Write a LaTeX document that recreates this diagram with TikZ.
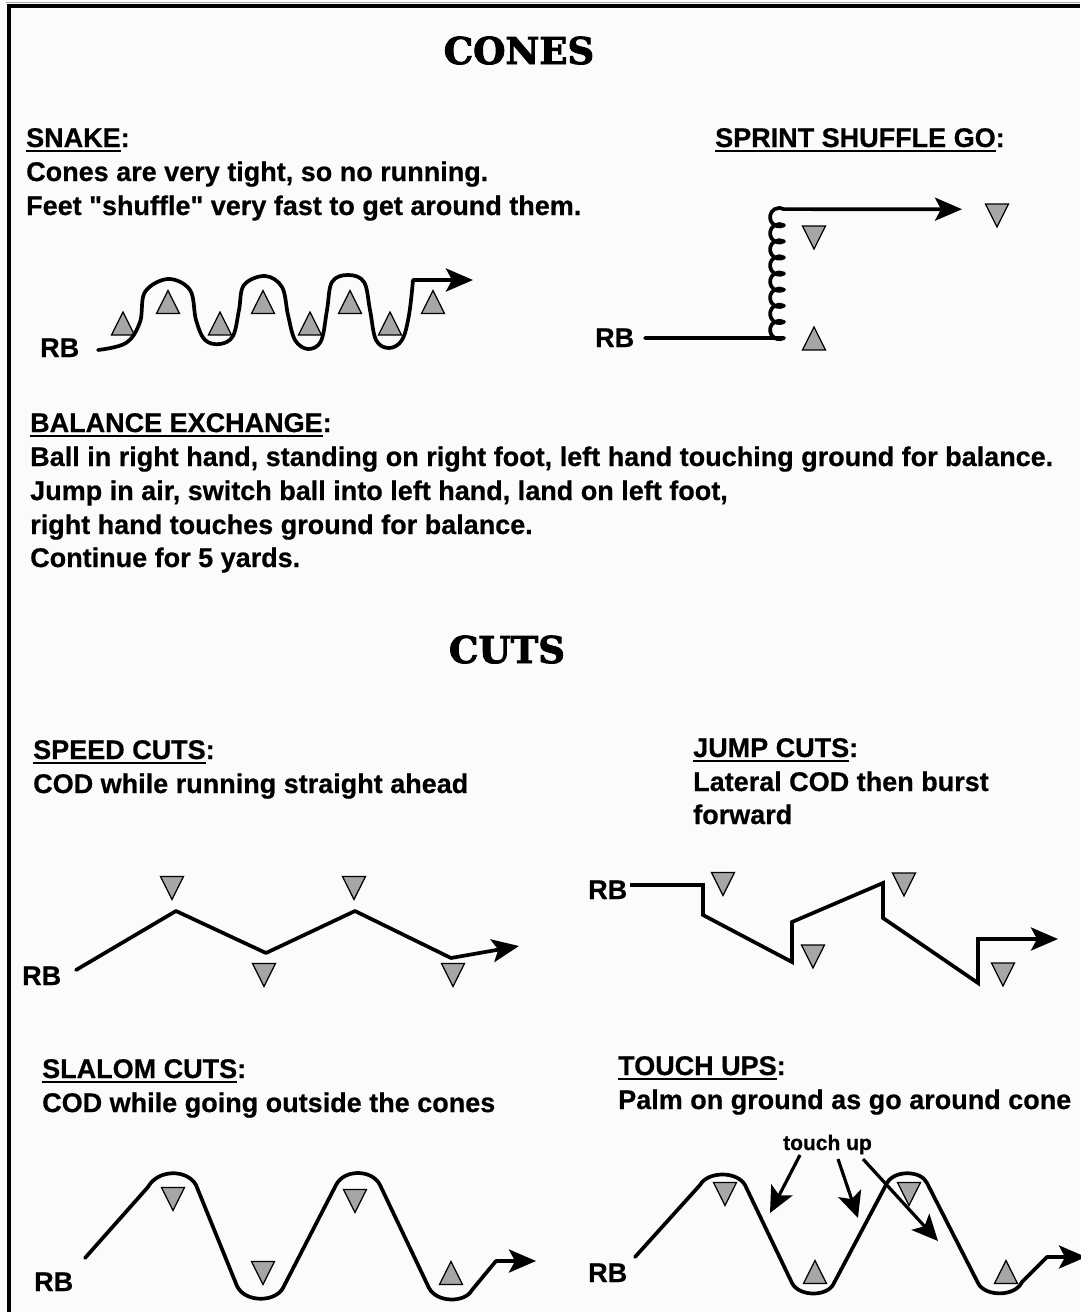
\documentclass[tikz,border=0pt]{standalone}
\usepackage{fontspec}
\newfontfamily\bodyfont{Liberation Sans}[FakeBold=0.6]
\newfontfamily\titlefont{DejaVu Serif}[FakeBold=2.5]
\setmainfont{Liberation Sans}
\usetikzlibrary{arrows.meta}
\newcommand\ulx[1]{\setbox0\hbox{#1}\rlap{\rule[-5pt]{\wd0}{2.5pt}}\box0}
\definecolor{bgcol}{RGB}{251,251,251}
\definecolor{conegray}{RGB}{166,166,166}
\begin{document}
\begin{tikzpicture}[x=1pt,y=-1pt,
  txt/.style={anchor=base west, inner sep=0pt, font=\bodyfont\fontsize{27}{32}\selectfont\bfseries},
  rb/.style={anchor=base west, inner sep=0pt, font=\bodyfont\fontsize{27}{32}\selectfont\bfseries},
  small/.style={anchor=base west, inner sep=0pt, font=\bodyfont\fontsize{21}{24}\selectfont\bfseries},
  title/.style={anchor=base, inner sep=0pt, font=\titlefont\fontsize{37}{40}\selectfont\bfseries},
  cone/.style={draw=black, line width=1.3pt, fill=conegray, line join=miter},
  route/.style={line width=3.7pt, line join=round, line cap=round},
  jroute/.style={line width=3.7pt, line join=miter},
  arr/.style={-{Stealth[length=27pt,width=23pt,inset=6pt]}},
  tarr/.style={line width=3.2pt, -{Stealth[length=26pt,width=24pt,inset=6pt]}},
  coneup/.pic={\draw[cone] (-11.5,11.5) -- (0,-11.5) -- (11.5,11.5) -- cycle;},
  conedown/.pic={\draw[cone] (-11.5,-11.5) -- (0,11.5) -- (11.5,-11.5) -- cycle;}
]
\useasboundingbox (0,0) rectangle (1080,1312);
\fill[bgcol] (0,0) rectangle (1080,1312);
% frame
\draw[line width=1pt, black!35] (6,2) -- (1080,2);
\draw[line width=4pt] (7,6) -- (1080,6);
\draw[line width=4pt] (9,4) -- (9,1312);

% titles
\node[title] (tcones) at (519,64) {CONES};
\node[title] (tcuts) at (507,663) {CUTS};

% SNAKE
\node[txt] (snakeH) at (26,147) {\ulx{SNAKE}:};
\node[txt] (snake1) at (26,181) {Cones are very tight, so no running.};
\node[txt] (snake2) at (26,215) {Feet "shuffle" very fast to get around them.};
\node[rb] (snakeRB) at (40,357) {RB};
\foreach \cx/\cy in {123/323.5,220/323.5,310/323.5,390/323.5,168/302,263/302,350/302,433/302}
  \pic at (\cx,\cy) {coneup};
\draw[route,arr] plot[smooth, tension=0.6] coordinates {(98,350) (126,343) (140,322) (145,292) (168,279) (190,290) (196,320) (205,340) (220,344) (233,336) (239,310) (244,285) (265,276) (282,287) (288,315) (295,340) (308,349) (321,341) (327,310) (332,282) (348,275) (364,282) (370,310) (376,340) (389,348) (402,340) (409,315) (413,280)} -- (473,280);

% SPRINT SHUFFLE GO
\node[txt] (sprintH) at (715,147) {\ulx{SPRINT SHUFFLE GO}:};
\node[rb] (sprintRB) at (595,347) {RB};
\pic at (814,237.5) {conedown};
\pic at (997,215.5) {conedown};
\pic at (814,338.5) {coneup};
\draw[route,arr] (645,338) -- (784,338)
  \foreach \i in {1,...,8} { arc[start angle=60,end angle=300,radius=9.3] }
  -- (962,209.2);

% BALANCE EXCHANGE
\node[txt] (balH) at (30,432) {\ulx{BALANCE EXCHANGE}:};
\node[txt] (bal1) at (30,466) {Ball in right hand, standing on right foot, left hand touching ground for balance.};
\node[txt] (bal2) at (30,500) {Jump in air, switch ball into left hand, land on left foot,};
\node[txt] (bal3) at (30,534) {right hand touches ground for balance.};
\node[txt] (bal4) at (30,567) {Continue for 5 yards.};

% SPEED CUTS
\node[txt] (speedH) at (33,759) {\ulx{SPEED CUTS}:};
\node[txt] (speed1) at (33,793) {COD while running straight ahead};
\node[rb] (speedRB) at (22,985) {RB};
\pic at (172,888) {conedown};
\pic at (354,888) {conedown};
\pic at (264,975) {conedown};
\pic at (453,975) {conedown};
\draw[route] (76,970) -- (176,911) -- (266,953) -- (355,911) -- (451,958);
\draw[route,arr] (451,958) -- (519,946);

% JUMP CUTS
\node[txt] (jumpH) at (693,757) {\ulx{JUMP CUTS}:};
\node[txt] (jump1) at (693,791) {Lateral COD then burst};
\node[txt] (jump2) at (693,824) {forward};
\node[rb] (jumpRB) at (588,899) {RB};
\pic at (723,884) {conedown};
\pic at (813,956.5) {conedown};
\pic at (904,884.5) {conedown};
\pic at (1003,974.5) {conedown};
\draw[jroute,arr] (630,885) -- (703,885) -- (703,915) -- (792,962) -- (792,922) -- (883,883) -- (883,918) -- (978,983) -- (978,939) -- (1058,939);

% SLALOM CUTS
\node[txt] (slalH) at (42,1078) {\ulx{SLALOM CUTS}:};
\node[txt] (slal1) at (42,1112) {COD while going outside the cones};
\node[rb] (slalRB) at (34,1291) {RB};
\pic at (173,1199) {conedown};
\pic at (263,1273) {conedown};
\pic at (355,1201) {conedown};
\pic at (451,1273) {coneup};
\draw[route,arr] (85,1258) -- (148,1187) .. controls (158,1169) and (187,1169) .. (196,1185) -- (237,1286) .. controls (245,1303) and (277,1303) .. (284,1286) -- (336,1185) .. controls (344,1169) and (372,1169) .. (380,1185) -- (429,1288) .. controls (437,1303) and (465,1303) .. (472,1290) -- (496,1261) -- (536,1261);

% TOUCH UPS
\node[txt] (touchH) at (618,1075) {\ulx{TOUCH UPS}:};
\node[txt] (touch1) at (618,1109) {Palm on ground as go around cone};
\node[rb] (touchRB) at (588,1282) {RB};
\node[small] (tulabel) at (783,1150) {touch up};
\pic at (725,1194) {conedown};
\pic at (815,1272) {coneup};
\pic at (909,1194) {conedown};
\pic at (1006,1272) {coneup};
\draw[route,arr] (635,1257) -- (700,1185) .. controls (708,1171) and (737,1171) .. (745,1185) -- (792,1283) .. controls (799,1297) and (828,1297) .. (834,1283) -- (887,1183) .. controls (894,1170) and (921,1170) .. (927,1183) -- (978,1283) .. controls (985,1297) and (1015,1297) .. (1022,1282) -- (1047,1257) -- (1086,1257);
\coordinate (tu1) at (770,1213);
\coordinate (tu2) at (858,1218);
\coordinate (tu3) at (938,1241);
\draw[tarr] (800,1155) -- (tu1);
\draw[tarr] (838,1159) -- (tu2);
\draw[tarr] (863,1159) -- (tu3);
\end{tikzpicture}
\end{document}
